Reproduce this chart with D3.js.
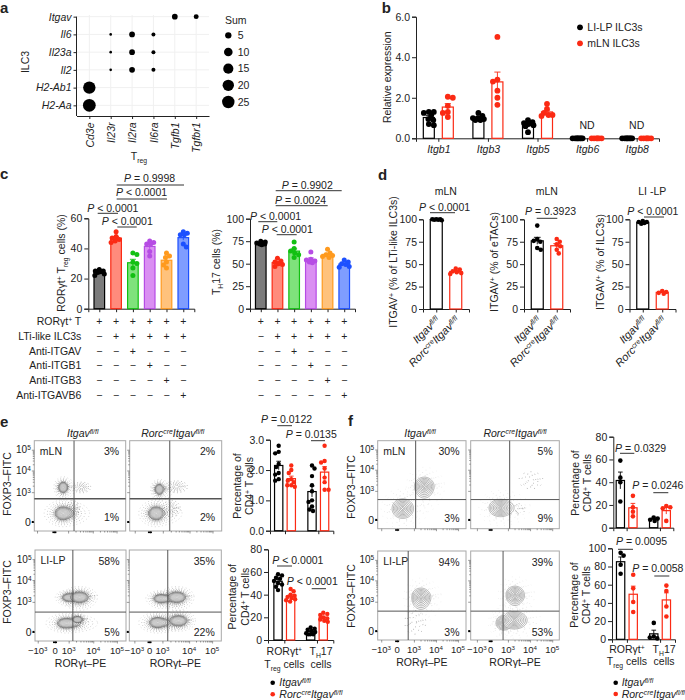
<!DOCTYPE html>
<html>
<head>
<meta charset="utf-8">
<script src="https://cdn.jsdelivr.net/npm/d3@7"></script>
<style>
  body { margin: 0; background: #fff; }
  svg { display: block; font-family: "Liberation Sans", Arial, sans-serif; font-size: 10.5px; }
  text { fill: #222; }
</style>
</head>
<body>
<svg id="fig" width="685" height="700"></svg>
<script>
// panel a
const aGenesX = ["Cd3e", "Il23r", "Il2ra", "Il6ra", "Tgfb1", "Tgfbr1"];
const aGenesY = ["H2-Aa", "H2-Ab1", "Il2", "Il23a", "Il6", "Itgav"];
const aDots = [
  ["Tgfb1", "Itgav", 4], ["Tgfbr1", "Itgav", 3],
  ["Il23r", "Il6", 1], ["Il2ra", "Il6", 4], ["Il6ra", "Il6", 2],
  ["Il23r", "Il23a", 1], ["Il2ra", "Il23a", 4], ["Il6ra", "Il23a", 2],
  ["Il23r", "Il2", 1], ["Il2ra", "Il2", 4], ["Il6ra", "Il2", 2],
  ["Cd3e", "H2-Ab1", 25], ["Cd3e", "H2-Aa", 27]
];
const aLegend = [5, 10, 15, 20, 25];

// panel b
const bGenes = ["Itgb1", "Itgb3", "Itgb5", "Itgb6", "Itgb8"];
const bLilp = [
  [1.3, 1.25, 1.3, 1.15, 0.9, 0.95, 0.7, 0.65],
  [1.25, 1.1, 1.0, 0.95, 0.9, 0.9, 1.0],
  [0.9, 0.8, 0.75, 0.7, 0.65, 0.6, 0.3],
  [0, 0, 0, 0, 0, 0, 0, 0],
  [0, 0, 0, 0, 0, 0, 0, 0]
];
const bMln = [
  [2.0, 2.05, 1.6, 1.3, 1.25, 1.05],
  [5.0, 2.9, 2.8, 2.35, 2.0, 1.65],
  [1.7, 1.45, 1.25, 1.15, 1.15, 1.1],
  [0, 0, 0, 0, 0, 0],
  [0, 0, 0, 0, 0, 0]
];

// panel c
const cConditions = ["c1", "c2", "c3", "c4", "c5", "c6"];
const cFills = ["#7b7b7b", "#ff8b7c", "#7fe27c", "#da8ff2", "#ffc27c", "#7f9dff"];
const cStrokes = ["#000000", "#fb2a14", "#12c012", "#b64ce4", "#ff9a1e", "#1c50ff"];
const cTreg = [
  [26, 25, 24.5, 24, 23, 22, 25],
  [51, 48, 47, 46, 45, 44],
  [37, 36, 31, 30, 27, 22],
  [45, 44, 43, 43, 38, 35],
  [37, 35, 34, 31, 29, 27],
  [51, 50, 49, 49, 43, 41]
];
const cTh17 = [
  [75, 74, 73, 73, 72, 71, 72],
  [56, 53, 52, 50, 49, 47],
  [74, 67, 64, 62, 60, 57],
  [63, 55, 54, 53, 52, 51],
  [66, 62, 60, 59, 58, 57],
  [54, 52, 50, 49, 47, 46]
];
const cRowLabels = [
  [["RORγt"], ["+", "sup"], [" T"]],
  [["LTi-like ILC3s"]],
  [["Anti-ITGAV"]],
  [["Anti-ITGB1"]],
  [["Anti-ITGB3"]],
  [["Anti-ITGAVB6"]]
];
const cSigns = [
  "++++++",
  "-+++++",
  "--+---",
  "---+--",
  "----+-",
  "-----+"
];

// panel d
const dGenotypes = ["ctl", "ko"];
const dLti = [[100, 100, 99.5, 99, 100, 99.5], [45, 44, 42, 41, 40, 39]];
const dEtac = [[93, 78, 76, 75, 68, 66], [78, 75, 72, 70, 66, 62]];
const dIlc3 = [[98, 97, 97, 96, 95], [20, 19, 18, 17]];
const dTitles = ["mLN", "mLN", "LI -LP"];

// panels e and f, bars
const cellTypes = ["Treg", "Th17"];
const eTopCtl = [[2.8, 2.55, 2.6, 2.2, 2.1, 1.9, 1.7, 1.65, 1.85], [2.15, 2.05, 1.8, 1.5, 1.3, 1.0, 0.95, 0.8, 0.7, 0.65]];
const eTopKo = [[2.15, 2.0, 1.9, 1.7, 1.65, 1.6, 1.5, 1.45, 1.5], [2.8, 2.3, 2.25, 2.05, 1.75, 1.6, 1.35, 1.35]];
const eBotCtl = [[58, 57, 55, 54, 52, 50, 49, 47, 44], [11, 10, 9, 8, 7, 6, 5, 5, 5]];
const eBotKo = [[45, 43, 40, 39, 38, 37, 36, 35, 34], [24, 23, 22, 20, 19, 18, 17, 16]];
const fTopCtl = [[59, 44, 40, 23], [9, 8, 7, 6]];
const fTopKo = [[28, 18, 14, 10], [19, 18, 17, 6]];
const fBotCtl = [[95, 92, 82, 72], [18, 3, 2, 1]];
const fBotKo = [[71, 56, 41, 30], [59, 53, 36, 25]];

// flow plots: populations as [x, y, rx, ry, contoured], in decades of the biexponential axes
const eMlnCtl = [[0.64, 0.29, 0.6, 0.22, 1], [0.64, 1.22, 0.33, 0.24, 1], [1.54, 1.22, 0.28, 0.18, 0], [1.19, 0.45, 0.2, 0.2, 0]];
const eMlnKo = [[0.49, 0.29, 0.6, 0.22, 1], [0.73, 1.14, 0.33, 0.22, 1], [1.52, 1.25, 0.3, 0.2, 0], [1.32, 0.45, 0.25, 0.2, 0]];
const eLilpCtl = [[1.04, 1.2, 0.5, 0.17, 1], [1.44, 1.21, 0.36, 0.24, 1], [0.83, 0.29, 0.66, 0.16, 1], [1.36, 0.41, 0.2, 0.1, 1]];
const eLilpKo = [[0.88, 1.15, 0.55, 0.18, 1], [1.54, 1.21, 0.33, 0.24, 1], [0.64, 0.31, 0.66, 0.17, 1], [1.6, 0.37, 0.33, 0.17, 1]];
const fMlnCtl = [[0.33, 0.39, 0.65, 0.34, 1], [1.47, 1.2, 0.45, 0.45, 1]];
const fMlnKo = [[0.58, 0.41, 0.7, 0.3, 1], [1.36, 0.37, 0.3, 0.15, 0], [2.04, 1.5, 0.4, 0.3, 0]];
const fLilpCtl = [[1.32, 1.19, 0.45, 0.45, 1], [1.0, 0.3, 0.4, 0.3, 0]];
const fLilpKo = [[1.32, 1.3, 0.43, 0.43, 1], [0.76, 0.28, 0.45, 0.25, 1], [1.29, 0.37, 0.58, 0.3, 1]];
const flowDecades = [-1, 0, 1, 2, 3];

const svg = d3.select("#fig");
const ink = "#222";
const black = "#000000";
const red = "#fb2a14";

// rich text: segs is a list of [string, style] with style i, sup, sub or isup
function rich(sel, segs) {
  segs.forEach(([s, st]) => {
    const t = sel.append("tspan").text(s);
    if (st === "i" || st === "isup") t.attr("font-style", "italic");
    if (st === "sup" || st === "isup") t.attr("font-size", "0.65em").attr("baseline-shift", 3.5);
    if (st === "sub") t.attr("font-size", "0.65em").attr("baseline-shift", -2.5);
  });
  return sel;
}
function label(x, cy, segs, anchor, rotate, size) {
  const t = svg.append("text")
    .attr("text-anchor", anchor || "middle")
    .attr("dy", "0.35em")
    .attr("transform", `translate(${x},${cy})` + (rotate ? `rotate(${rotate})` : ""));
  if (size) t.attr("font-size", size);
  return rich(t, typeof segs === "string" ? [[segs]] : segs);
}
function letter(s, x, y) {
  svg.append("text").attr("x", x).attr("y", y)
    .attr("font-weight", "bold").attr("font-size", 15).attr("fill", "#000").text(s);
}
function sig(tx, cy, x1, x2, ly, rest) {
  label(tx, cy, [["P", "i"], [" " + rest]], "start");
  svg.append("line").attr("x1", x1).attr("x2", x2).attr("y1", ly).attr("y2", ly)
    .attr("stroke", "#333").attr("stroke-width", 1);
}
function styleAxis(g) {
  g.selectAll("path,line").attr("stroke", ink).attr("stroke-width", 1);
  g.selectAll("text").attr("font-size", 10.5).attr("fill", ink);
  return g;
}

// bar panel frame: returns x and y scales
function barFrame(o) {
  const x = d3.scalePoint().domain(o.groups).range([o.x0, o.x1]).padding(o.padding);
  const y = d3.scaleLinear().domain([0, o.yMax]).range([o.yBot, o.yTop]);
  styleAxis(svg.append("g").attr("transform", `translate(${o.x0},0)`)
    .call(d3.axisLeft(y).tickValues(o.yTicks).tickSizeOuter(0).tickSize(4).tickPadding(2)));
  const gx = styleAxis(svg.append("g").attr("transform", `translate(0,${o.yBot})`)
    .call(d3.axisBottom(x).tickSizeOuter(0).tickSize(3.5).tickPadding(4)));
  if (o.noLabels) gx.selectAll("text").remove();
  return {x, y, gx};
}

// one bar with its points: mean, s.e.m. and dodged dots
function bar(p, cx, vals, s) {
  const m = d3.mean(vals);
  const sem = d3.deviation(vals) / Math.sqrt(vals.length);
  const y0 = p.y(0);
  svg.append("rect")
    .attr("x", cx - s.w / 2).attr("width", s.w)
    .attr("y", p.y(m)).attr("height", y0 - p.y(m))
    .attr("fill", s.fill || "#fff").attr("stroke", s.stroke).attr("stroke-width", 1.2);
  svg.append("path")
    .attr("d", `M${cx},${p.y(m + sem)}V${p.y(Math.max(0, m - sem))}M${cx - s.w * 0.28},${p.y(m + sem)}H${cx + s.w * 0.28}`)
    .attr("stroke", s.stroke).attr("fill", "none").attr("stroke-width", 0.9);
  const placed = [];
  vals.slice().sort(d3.descending).forEach((v, i) => {
    const py = p.y(v);
    let best = 0, bestScore = -Infinity;
    const sign = i % 2 ? 1 : -1;
    for (let d = 0; d <= s.spread; d += 0.5) {
      for (const dx of [d * sign, -d * sign]) {
        const clear = placed.length ? d3.min(placed, q => Math.hypot(q[0] - dx, q[1] - py)) : 99;
        const score = clear >= s.r * 1.7 ? 100 - d : clear;
        if (score > bestScore) { bestScore = score; best = dx; }
      }
    }
    placed.push([best, py]);
  });
  svg.append("g").selectAll("circle").data(placed).join("circle")
    .attr("cx", d => cx + d[0]).attr("cy", d => d[1]).attr("r", s.r).attr("fill", s.stroke);
}

// ---- a ----
letter("a", 0, 13);
const aX = d3.scalePoint().domain(aGenesX).range([76.5, 209]).padding(0.6);
const aY = d3.scalePoint().domain(aGenesY).range([116, 6]).padding(0.6);
const aR = d3.scalePow().exponent(0.3).domain([1, 25]).range([1.3, 6.2]);
aGenesY.forEach(g => svg.append("line").attr("x1", 76.5).attr("x2", 209).attr("y1", aY(g)).attr("y2", aY(g)).attr("stroke", "#f0f0f0"));
aGenesX.forEach(g => svg.append("line").attr("x1", aX(g)).attr("x2", aX(g)).attr("y1", 15).attr("y2", 116).attr("stroke", "#f0f0f0"));
const aLeft = svg.append("g").attr("transform", "translate(76.5,0)")
  .call(d3.axisLeft(aY).tickSize(3).tickPadding(2).tickSizeOuter(0));
const aBot = svg.append("g").attr("transform", "translate(0,116)")
  .call(d3.axisBottom(aX).tickSize(3).tickPadding(3).tickSizeOuter(0));
styleAxis(aLeft); styleAxis(aBot);
aLeft.select(".domain").attr("d", `M0,${aY("Itgav")}V116`);
aLeft.selectAll("text").attr("font-style", "italic");
aBot.selectAll("text").attr("font-style", "italic")
  .attr("transform", "rotate(-90)").attr("text-anchor", "end")
  .attr("x", -6.5).attr("y", 0).attr("dy", "0.35em");
svg.append("g").selectAll("circle").data(aDots).join("circle")
  .attr("cx", d => aX(d[0])).attr("cy", d => aY(d[1])).attr("r", d => aR(d[2])).attr("fill", "#000");
label(25.7, 62, "ILC3", "middle", -90);
label(139, 156, [["T"], ["reg", "sub"]]);
label(225, 20.7, "Sum", "start");
const aLegY = d3.scalePoint().domain(aLegend).range([35.3, 102]);
aLegend.forEach(v => {
  svg.append("circle").attr("cx", 228.3).attr("cy", aLegY(v)).attr("r", aR(v)).attr("fill", "#000");
  label(237.7, aLegY(v), String(v), "start");
});

// ---- b ----
letter("b", 381.7, 13);
const pb = barFrame({x0: 416, x1: 659, yTop: 16.7, yBot: 138.3, yMax: 6, yTicks: [0, 2, 4, 6], groups: bGenes, padding: 0.45});
pb.gx.selectAll("text").attr("font-style", "italic");
bGenes.forEach((g, i) => {
  bar(pb, pb.x(g) - 9.5, bLilp[i], {w: 11, stroke: black, r: 2.9, spread: 5.5});
  bar(pb, pb.x(g) + 9.5, bMln[i], {w: 11, stroke: red, r: 2.9, spread: 5.5});
});
label(pb.x("Itgb6"), 125.7, "ND");
label(pb.x("Itgb8"), 125.7, "ND");
label(387.3, 77.3, "Relative expression", "middle", -90);
svg.append("circle").attr("cx", 580).attr("cy", 27.3).attr("r", 2.9).attr("fill", black);
svg.append("circle").attr("cx", 580).attr("cy", 43.3).attr("r", 2.9).attr("fill", red);
label(587.3, 27.3, "LI-LP ILC3s", "start");
label(587.3, 43.3, "mLN ILC3s", "start");

// ---- c ----
letter("c", 0, 179);
const pc1 = barFrame({x0: 88.3, x1: 194.3, yTop: 218.3, yBot: 308.7, yMax: 60, yTicks: [0, 20, 40, 60], groups: cConditions, padding: 0.655, noLabels: true});
const pc2 = barFrame({x0: 250, x1: 355, yTop: 218.7, yBot: 308.7, yMax: 100, yTicks: [0, 25, 50, 75, 100], groups: cConditions, padding: 0.645, noLabels: true});
cConditions.forEach((c, i) => {
  bar(pc1, pc1.x(c), cTreg[i], {w: 10.6, fill: cFills[i], stroke: cStrokes[i], r: 2.5, spread: 5});
  bar(pc2, pc2.x(c), cTh17[i], {w: 10.6, fill: cFills[i], stroke: cStrokes[i], r: 2.5, spread: 5});
});
label(61, 263, [["RORγt"], ["+", "sup"], [" T"], ["reg", "sub"], [" cells (%)"]], "middle", -90);
label(216, 262, [["T"], ["H", "sub"], ["17 cells (%)"]], "middle", -90);
sig(124, 178, 116.7, 184, 185, "= 0.9998");
sig(116, 192.5, 116.7, 167, 199, "< 0.0001");
sig(87.3, 208, 97.7, 118, 213.3, "< 0.0001");
sig(101.7, 221.7, 117.3, 136.7, 227, "< 0.0001");
sig(281.7, 185.7, 275.7, 341.7, 190.7, "= 0.9902");
sig(275, 200.7, 275.7, 327.7, 205.7, "= 0.0024");
sig(250, 216.7, 258.3, 277.3, 221.7, "< 0.0001");
sig(261.7, 229.3, 276.7, 296.7, 234.7, "< 0.0001");
const rowY = d3.scalePoint().domain(d3.range(6)).range([321.7, 395]);
cRowLabels.forEach((segs, r) => {
  label(81.3, rowY(r), segs, "end");
  cConditions.forEach((c, i) => {
    const s = cSigns[r][i] === "+" ? "+" : "−";
    label(pc1.x(c), rowY(r), s);
    label(pc2.x(c), rowY(r), s);
  });
});

// ---- d ----
letter("d", 378, 179.7);
const ctlSegs = [["Itgav", "i"], ["fl/fl", "isup"]];
const koSegs = [["Rorc", "i"], ["cre", "isup"], ["Itgav", "i"], ["fl/fl", "isup"]];
[[423, dLti], [524, dEtac], [629.5, dIlc3]].forEach(([x0, vals], k) => {
  const p = barFrame({x0: x0, x1: x0 + 46, yTop: 219.3, yBot: 309, yMax: 100, yTicks: [0, 25, 50, 75, 100], groups: dGenotypes, padding: 0.68, noLabels: true});
  bar(p, p.x("ctl"), vals[0], {w: 12, stroke: black, r: 2.3, spread: 5.5});
  bar(p, p.x("ko"), vals[1], {w: 12, stroke: red, r: 2.3, spread: 5.5});
  label(p.x("ctl") + 1.5, 318, ctlSegs, "end", -45, 11);
  label(p.x("ko") + 1.5, 318, koSegs, "end", -45, 11);
  label(p.x("ctl") + 9.5, 191.7, dTitles[k]);
});
label(393, 262, [["ITGAV"], ["+", "sup"], [" (% of LTi-like ILC3s)"]], "middle", -90);
label(494, 262, [["ITGAV"], ["+", "sup"], [" (% of eTACs)"]], "middle", -90);
label(600, 262, [["ITGAV"], ["+", "sup"], [" (% of ILC3s)"]], "middle", -90);
sig(419, 207.3, 430, 455, 212.7, "< 0.0001");
sig(525, 211.7, 536.7, 557.3, 218.3, "= 0.3923");
sig(627.3, 211, 644, 664, 217, "< 0.0001");

// ---- flow plots ----
const ringLevels = [1, 0.87, 0.74, 0.61, 0.48, 0.35, 0.22, 0.1];
const haloLevels = [1.15, 1.3, 1.5, 1.75, 2.05];
const minorDecades = d3.range(1, 3).flatMap(d => [0.3, 0.48, 0.6, 0.7, 0.78, 0.85, 0.9, 0.95].map(m => d + m));

function flow(o) {
  const x = d3.scaleLinear().domain(flowDecades)
    .range(o.xf.map(f => o.x + f * o.w));
  const y = d3.scaleLinear().domain([0, 1, 2, 3])
    .range([0.9, 0.57, 0.33, 0.1].map(f => o.y + f * o.h));
  const g = svg.append("g");
  const gate = d3.line().curve(d3.curveCardinalClosed.tension(0.2));
  const ring = (c, k) => gate(d3.range(0, 32).map(i => {
    const a = i / 32 * 2 * Math.PI;
    return [x(c[0] + k * c[2] * Math.cos(a)), y(c[1] + k * c[3] * Math.sin(a))];
  }));
  g.append("rect").attr("x", o.x).attr("y", o.y).attr("width", o.w).attr("height", o.h)
    .attr("fill", "#fff").attr("stroke", "#a8a8a8").attr("stroke-width", 1);
  const pops = g.append("g");
  o.pops.forEach(c => {
    (c[4] ? haloLevels : [0.3, 0.55, 0.8, 1.05, 1.35]).forEach((k, i) => {
      pops.append("path").attr("d", ring(c, k)).attr("fill", "none")
        .attr("stroke", "#555").attr("stroke-width", 0.7)
        .attr("stroke-linecap", "round")
        .attr("stroke-dasharray", o.dense ? `0.2 ${1.4 + i * 0.5}` : "0.2 7")
        .attr("opacity", o.dense ? (c[4] ? 0.8 - i * 0.12 : 0.55) : (c[4] ? 0.3 - i * 0.05 : 0.6));
    });
  });
  o.pops.filter(c => c[4]).forEach(c => {
    ringLevels.forEach((k, i) => {
      const t = i / (ringLevels.length - 1);
      const last = i === ringLevels.length - 1;
      pops.append("path").attr("d", ring(c, k))
        .attr("fill", last ? "#fff" : (o.dense ? d3.interpolateRgb("#d4d4d4", "#e2e2e2")(t) : "#fff"))
        .attr("stroke", o.dense ? d3.interpolateRgb("#333", "#b4b4b4")(Math.min(1, t * 2.2)) : d3.interpolateRgb("#8a8a8a", "#707070")(t))
        .attr("stroke-width", o.dense ? 0.55 : 0.6);
    });
  });
  // quadrant gates
  g.append("line").attr("x1", x(o.gateX)).attr("x2", x(o.gateX)).attr("y1", o.y).attr("y2", o.y + o.h)
    .attr("stroke", "#555").attr("stroke-width", 1);
  g.append("line").attr("x1", o.x).attr("x2", o.x + o.w).attr("y1", y(o.gateY)).attr("y2", y(o.gateY))
    .attr("stroke", "#555").attr("stroke-width", o.gateW || 1);
  // axes, ticks only; tick labels are added below as rich text
  const ax = g.append("g").attr("transform", `translate(${o.x},0)`)
    .call(d3.axisLeft(y).tickValues([0, 1, 2, 3]).tickFormat("").tickSize(2.5).tickSizeOuter(0));
  const bx = g.append("g").attr("transform", `translate(0,${o.y + o.h})`)
    .call(d3.axisBottom(x).tickValues(flowDecades).tickFormat("").tickSize(2.5).tickSizeOuter(0));
  const mx = g.append("g").attr("transform", `translate(0,${o.y + o.h})`)
    .call(d3.axisBottom(x).tickValues(minorDecades).tickFormat("").tickSize(1.5).tickSizeOuter(0));
  const my = g.append("g").attr("transform", `translate(${o.x},0)`)
    .call(d3.axisLeft(y).tickValues(minorDecades).tickFormat("").tickSize(1.5).tickSizeOuter(0));
  [ax, bx, mx, my].forEach(a => {
    a.select(".domain").remove();
    a.selectAll("line").attr("stroke", "#555").attr("stroke-width", 0.6);
  });
  g.append("rect").attr("x", o.x - 2.5).attr("y", y(0) - 1).attr("width", 2).attr("height", 2).attr("fill", "#000");
  g.append("rect").attr("x", x(0) - 2).attr("y", o.y + o.h + 0.5).attr("width", 4).attr("height", 1.6).attr("fill", "#000");

  if (o.yLabels) {
    [3, 2, 1].forEach(d => label(o.x - 3.5, y(d), [["10"], [String(d + 2), "sup"]], "end", 0, 10));
    label(o.x - 3.5, y(0), "0", "end");
  }
  if (o.xLabels) {
    const ly = o.y + o.h + 10;
    label(x(-1), ly, [["−10"], ["3", "sup"]], "middle", 0, 9.5);
    label(x(0), ly, "0", "middle", 0, 9.5);
    [1, 2, 3].forEach(d => label(x(d), ly, [["10"], [String(d + 2), "sup"]], "middle", 0, 9.5));
    label(o.x + o.w / 2, ly + 12, "RORγt–PE");
  }
  if (o.tissue) label(o.x + 5.5, o.y + 10.5, o.tissue, "start");
  label(o.x + o.w - 6.5, o.y + 11, o.hi, "end");
  label(o.x + o.w - 6.5, o.y + o.lowY, o.lo, "end");
}

const eXf = [0.03, 0.22, 0.37, 0.64, 0.9];
const eXfRight = [0.055, 0.22, 0.36, 0.65, 0.9];
const fXf = [0.04, 0.22, 0.41, 0.66, 0.91];
const fXfRight = [0.07, 0.225, 0.42, 0.67, 0.92];
flow({x: 34.3, y: 440.7, w: 91.4, h: 90.3, xf: eXf, pops: eMlnCtl, gateX: 1.24, gateY: 0.78, gateW: 1.5, hi: "3%", lo: "1%", lowY: 77, tissue: "mLN", yLabels: true, dense: true});
flow({x: 129.7, y: 440.7, w: 92, h: 90.3, xf: eXfRight, pops: eMlnKo, gateX: 1.26, gateY: 0.78, gateW: 1.5, hi: "2%", lo: "2%", lowY: 77, dense: true});
flow({x: 35, y: 550, w: 91, h: 91, xf: eXf, pops: eLilpCtl, gateX: 1.17, gateY: 0.66, hi: "58%", lo: "5%", lowY: 82.7, tissue: "LI-LP", yLabels: true, xLabels: true, dense: true});
flow({x: 129.3, y: 550, w: 92, h: 91, xf: eXfRight, pops: eLilpKo, gateX: 1.2, gateY: 0.66, hi: "35%", lo: "22%", lowY: 82.7, xLabels: true, dense: true});
flow({x: 377.7, y: 440.7, w: 88.3, h: 88, xf: fXf, pops: fMlnCtl, gateX: 1.08, gateY: 0.7, hi: "30%", lo: "3%", lowY: 77.6, tissue: "mLN", yLabels: true});
flow({x: 470.7, y: 440.7, w: 88.6, h: 88, xf: fXfRight, pops: fMlnKo, gateX: 1.08, gateY: 0.7, hi: "5%", lo: "9%", lowY: 77.6});
flow({x: 377.7, y: 551, w: 88.3, h: 89, xf: fXf, pops: fLilpCtl, gateX: 0.66, gateY: 0.68, hi: "94%", lo: "3%", lowY: 81.3, tissue: "LI-LP", yLabels: true, xLabels: true});
flow({x: 470.7, y: 551, w: 88.6, h: 89, xf: fXfRight, pops: fLilpKo, gateX: 0.72, gateY: 0.68, hi: "39%", lo: "53%", lowY: 81.3, xLabels: true});

// ---- e ----
letter("e", 0, 426.7);
label(82.7, 433, ctlSegs);
label(172.7, 433, koSegs);
label(7.7, 484, "FOXP3–FITC", "middle", -90);
label(7.7, 592, "FOXP3–FITC", "middle", -90);

function cdBars(o, ctl, ko, off) {
  const p = barFrame(Object.assign({groups: cellTypes, noLabels: true}, o));
  cellTypes.forEach((c, i) => {
    bar(p, p.x(c) - off, ctl[i], {w: 8.3, stroke: black, r: o.r, spread: 4.5});
    bar(p, p.x(c) + off, ko[i], {w: 8.3, stroke: red, r: o.r, spread: 4.5});
  });
  return p;
}
function cdTitle(x1, x2, cy) {
  label(x1, cy, "Percentage of", "middle", -90);
  label(x2, cy, [["CD4"], ["+", "sup"], [" T cells"]], "middle", -90);
}
function cdCats(p, cy1, cy2) {
  label(p.x("Treg"), cy1, [["RORγt"], ["+", "sup"]]);
  label(p.x("Treg"), cy2, [["T"], ["reg", "sub"], [" cells"]]);
  label(p.x("Th17") + 4, cy1, [["T"], ["H", "sub"], ["17"]]);
  label(p.x("Th17") + 4, cy2, "cells");
}
function genotypeKey(dx, tx, cy1, cy2) {
  svg.append("circle").attr("cx", dx).attr("cy", cy1).attr("r", 2.3).attr("fill", black);
  svg.append("circle").attr("cx", dx).attr("cy", cy2).attr("r", 2.3).attr("fill", red);
  label(tx, cy1, ctlSegs, "start");
  label(tx, cy2, koSegs, "start");
}

cdBars({x0: 270, x1: 333.3, yTop: 439.7, yBot: 530.7, yMax: 3, yTicks: [0, 1, 2, 3], padding: 0.45, r: 2.2}, eTopCtl, eTopKo, 6.3);
cdTitle(237.3, 249.3, 486);
sig(261, 419, 277.3, 292, 425.7, "= 0.0122");
sig(285.7, 434.3, 311, 325, 440.7, "= 0.0135");
const peb = cdBars({x0: 268, x1: 333.3, yTop: 549.3, yBot: 640, yMax: 80, yTicks: [0, 20, 40, 60, 80], padding: 0.5, r: 2.2}, eBotCtl, eBotKo, 6.3);
cdTitle(232.7, 245, 596.7);
sig(272.3, 560, 277, 292, 566, "< 0.0001");
sig(286.7, 581.7, 311.7, 326, 588.7, "< 0.0001");
cdCats(peb, 651, 664.3);
genotypeKey(272.7, 279.3, 682.7, 694.3);

// ---- f ----
letter("f", 348, 425.7);
label(420, 433, ctlSegs);
label(515, 433, koSegs);
label(351, 487, "FOXP3–FITC", "middle", -90);
label(351, 596, "FOXP3–FITC", "middle", -90);
cdBars({x0: 613.3, x1: 673.3, yTop: 436.7, yBot: 527.7, yMax: 80, yTicks: [0, 20, 40, 60, 80], padding: 0.4, r: 2.3}, fTopCtl, fTopKo, 6.3);
cdTitle(575, 587.3, 483);
sig(615, 448.3, 620, 634.3, 453.3, "= 0.0329");
sig(632.3, 485, 653.3, 668.3, 492.7, "= 0.0246");
const pfb = cdBars({x0: 612, x1: 675, yTop: 548.3, yBot: 639.3, yMax: 100, yTicks: [0, 20, 40, 60, 80, 100], padding: 0.45, r: 2.3}, fBotCtl, fBotKo, 6.3);
cdTitle(574, 586.7, 595);
sig(616, 541, 618, 633, 549.3, "= 0.0095");
sig(632.3, 568.3, 654.3, 669.3, 576, "= 0.0058");
cdCats(pfb, 649.3, 661.7);
genotypeKey(615.7, 621.7, 682.7, 694);
</script>
</body>
</html>
